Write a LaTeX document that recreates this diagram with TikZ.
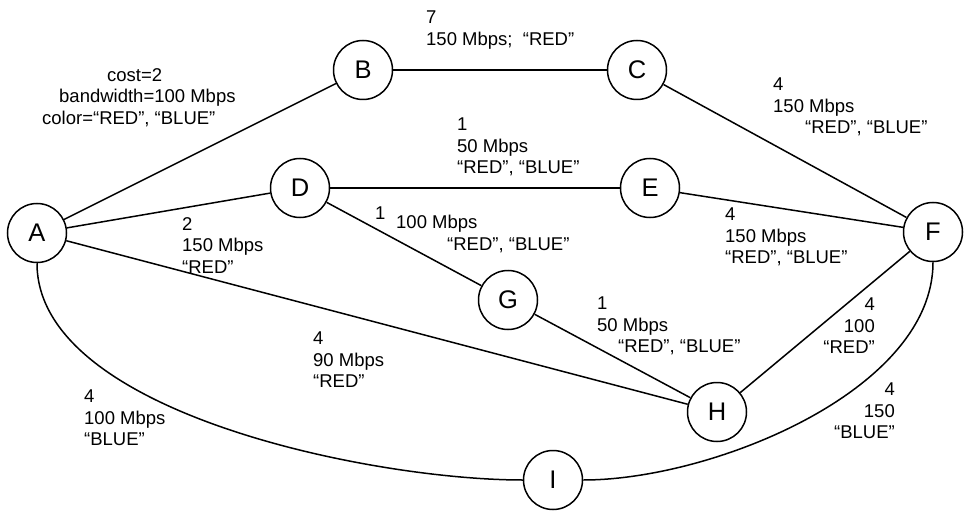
\documentclass[tikz,border=0pt]{standalone}
\usepackage{fontspec}
\setmainfont{Liberation Sans}
\usetikzlibrary{positioning}

\begin{document}
\begin{tikzpicture}[x=1pt, y=1pt,
    router/.style={circle, draw, line width=1.5pt, minimum size=59pt, inner sep=0pt, font=\fontsize{25.5}{30}\selectfont},
    link/.style={line width=1.5pt},
    info/.style={inner sep=0pt, anchor=north west, align=left, font=\fontsize{18.5}{21.5}\selectfont},
    inforight/.style={info, anchor=north east, align=right}
]
    \useasboundingbox (0,0) rectangle (966,-513);

    % Routers
    \node[router] (A) at (37,-233) {A};
    \node[router] (B) at (363,-70) {B};
    \node[router] (C) at (637,-70) {C};
    \node[router] (D) at (300,-188) {D};
    \node[router] (E) at (650,-188) {E};
    \node[router] (F) at (933,-232) {F};
    \node[router] (G) at (508,-300) {G};
    \node[router] (H) at (717,-412) {H};
    \node[router] (I) at (553,-480) {I};

    % Links
    \draw[link] (A) -- (B);
    \draw[link] (B) -- (C);
    \draw[link] (C) -- (F);
    \draw[link] (A) -- (D);
    \draw[link] (D) -- (E);
    \draw[link] (E) -- (F);
    \draw[link] (D) -- (G);
    \draw[link] (G) -- (H);
    \draw[link] (A) -- (H);
    \draw[link] (H) -- (F);
    \draw[link] (A.south) to[out=-90, in=180, looseness=0.72] (I.west);
    \draw[link] (I.east) to[out=0, in=-90, looseness=0.8] (F.south);

    % Link attributes
    \node[info] (costAB) at (42,-68) {\hspace*{65pt}cost=2\\\hspace*{17pt}bandwidth=100 Mbps\\color=“RED”, “BLUE”};
    \node[info] (costBC) at (426,-11) {7\\150 Mbps;\ \ “RED”};
    \node[info] (costCF) at (773,-78) {4\\150 Mbps\\\hspace*{32pt}“RED”, “BLUE”};
    \node[info] (costAD) at (182,-217) {2\\150 Mbps\\“RED”};
    \node[info] (costDE) at (457,-118) {1\\50 Mbps\\“RED”, “BLUE”};
    \node[info] (costDG) at (375,-207) {1\\[-12.5pt]\hspace*{21pt}100 Mbps\\\hspace*{72pt}“RED”, “BLUE”};
    \node[info] (costEF) at (725,-208) {4\\150 Mbps\\“RED”, “BLUE”};
    \node[info] (costGH) at (597,-297) {1\\50 Mbps\\\hspace*{21pt}“RED”, “BLUE”};
    \node[info] (costAH) at (313,-332) {4\\90 Mbps\\“RED”};
    \node[info] (costAI) at (84,-390) {4\\100 Mbps\\“BLUE”};
    \node[inforight] (costHF) at (875,-298) {4\\100\\“RED”};
    \node[inforight] (costIF) at (895,-383) {4\\150\\“BLUE”};
\end{tikzpicture}
\end{document}
